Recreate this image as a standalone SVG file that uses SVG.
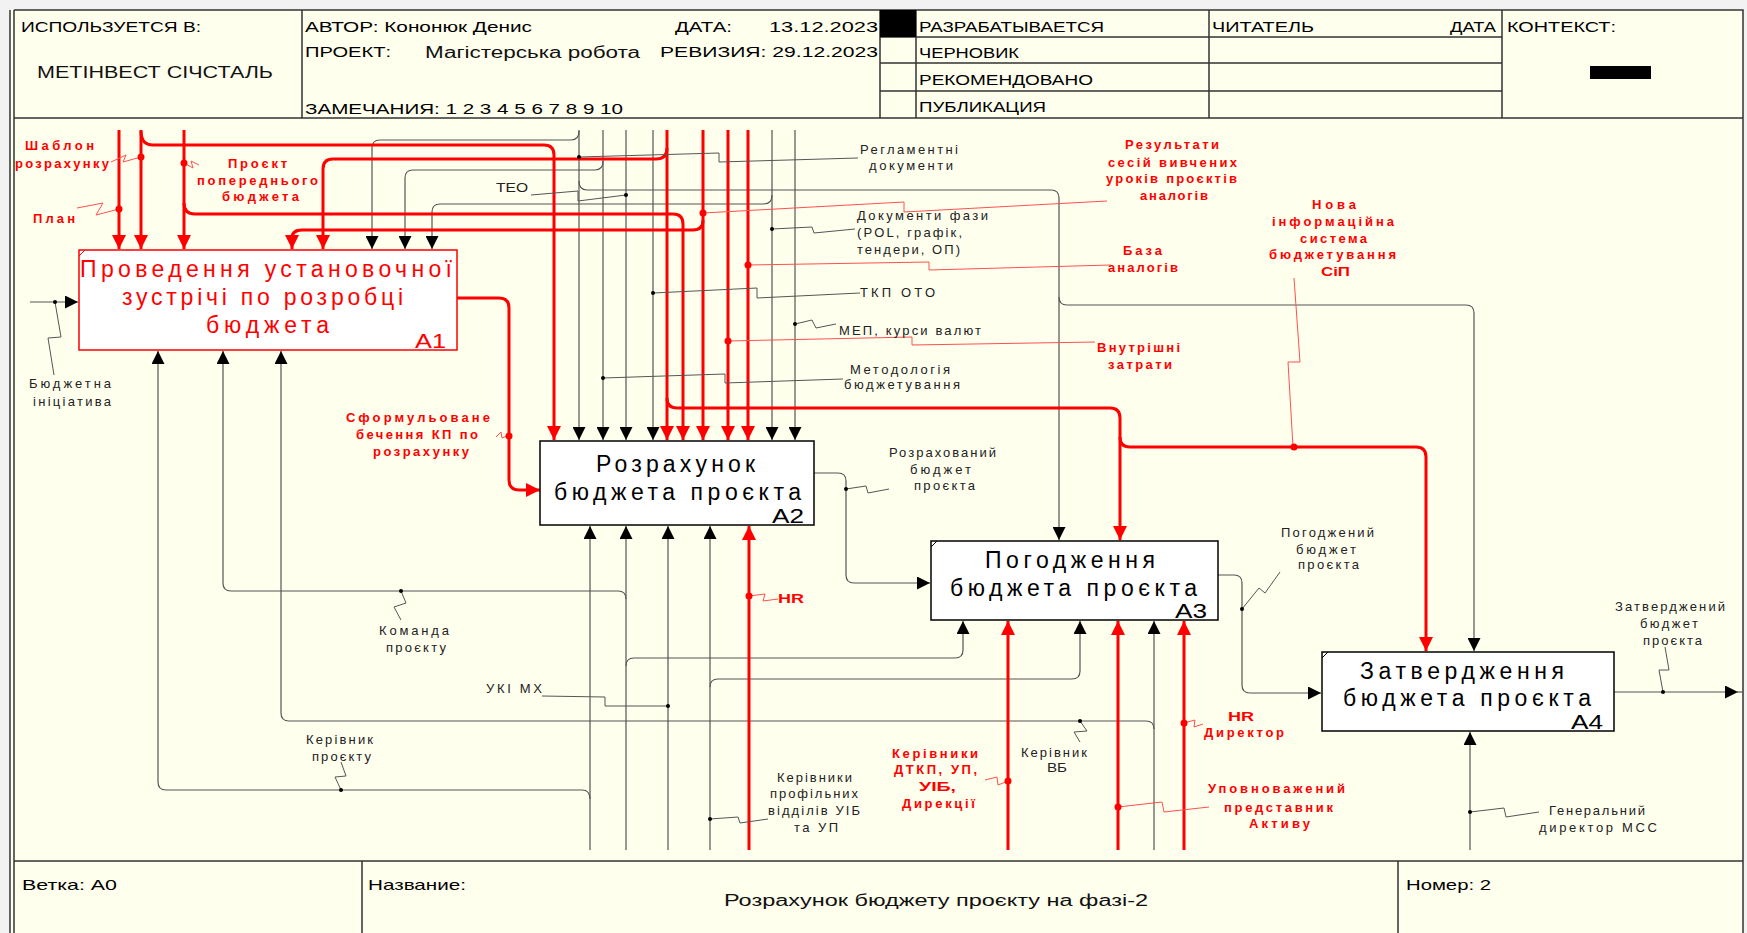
<svg xmlns="http://www.w3.org/2000/svg" width="1747" height="933" viewBox="0 0 1747 933">
<defs>
<style>
.hd{font-family:"Liberation Sans",Arial,sans-serif;font-size:15px;fill:#000}
.th{font-family:"Liberation Sans",Arial,sans-serif;font-size:16px;fill:#111}
.bx{font-family:"Liberation Sans",Arial,sans-serif;font-size:23px;fill:#000}
.bxr{font-family:"Liberation Sans",Arial,sans-serif;font-size:23px;fill:#ff0000}
.num{font-family:"Liberation Sans",Arial,sans-serif;font-size:20px}
.lb{font-family:"Liberation Sans",Arial,sans-serif;font-size:13px;fill:#222}
.rl{font-family:"Liberation Sans",Arial,sans-serif;font-size:13px;font-weight:bold;fill:#ff0000}
.fr{stroke:#333;stroke-width:1.5;fill:none}
.k{stroke:#555;stroke-width:1.2;fill:none}
.r{stroke:#ff0000;stroke-width:3;fill:none}
.ks{stroke:#555;stroke-width:1;fill:none}
.rs{stroke:#ff5050;stroke-width:1;fill:none}
.box{fill:#fff;stroke:#000;stroke-width:1.5}
.boxr{fill:#fff;stroke:#ff0000;stroke-width:1.5}
</style>
<marker id="ak" markerUnits="userSpaceOnUse" markerWidth="13" markerHeight="13" viewBox="0 0 12 12" refX="12" refY="6" orient="auto"><path d="M0,0 L12,6 L0,12 z" fill="#000"/></marker>
<marker id="ar" markerUnits="userSpaceOnUse" markerWidth="14" markerHeight="14" viewBox="0 0 12 12" refX="12" refY="6" orient="auto"><path d="M0,0 L12,6 L0,12 z" fill="#ff0000"/></marker>
</defs>
<rect x="0" y="0" width="1747" height="933" fill="#f2f2f2"/>
<rect x="10" y="10" width="1733" height="923" fill="#FFFFEE"/>
<g id="frame">
<path class="fr" d="M10,10 V933 M14,10 V933 M14,10 H1743 V933 M14,118 H1743 M14,861 H1743"/>
<path class="fr" d="M302,10 V118 M880,10 V118 M916,10 V118 M1209,10 V118 M1502,10 V118 M880,37 H1502 M880,63 H1502 M880,91 H1502"/>
<path class="fr" d="M362,861 V933 M1398,861 V933"/>
<rect x="880" y="10" width="36" height="27" fill="#000"/>
<rect x="1590" y="66" width="61" height="13" fill="#000"/>
<text class="hd" x="21" y="32" textLength="180" lengthAdjust="spacingAndGlyphs">ИСПОЛЬЗУЕТСЯ В:</text>
<text class="th" x="37" y="78" textLength="236" lengthAdjust="spacingAndGlyphs">МЕТІНВЕСТ СІЧСТАЛЬ</text>
<text class="hd" x="305" y="32" textLength="227" lengthAdjust="spacingAndGlyphs">АВТОР: Кононюк Денис</text>
<text class="hd" x="675" y="32" textLength="57" lengthAdjust="spacingAndGlyphs">ДАТА:</text>
<text class="hd" x="769" y="32" textLength="109" lengthAdjust="spacingAndGlyphs">13.12.2023</text>
<text class="hd" x="305" y="57" textLength="86" lengthAdjust="spacingAndGlyphs">ПРОЕКТ:</text>
<text class="th" x="425" y="58" textLength="215" lengthAdjust="spacingAndGlyphs">Магістерська робота</text>
<text class="hd" x="660" y="57" textLength="218" lengthAdjust="spacingAndGlyphs">РЕВИЗИЯ: 29.12.2023</text>
<text class="hd" x="305" y="114" textLength="318" lengthAdjust="spacingAndGlyphs">ЗАМЕЧАНИЯ: 1 2 3 4 5 6 7 8 9 10</text>
<text class="hd" x="919" y="32" textLength="185" lengthAdjust="spacingAndGlyphs">РАЗРАБАТЫВАЕТСЯ</text>
<text class="hd" x="919" y="58" textLength="100" lengthAdjust="spacingAndGlyphs">ЧЕРНОВИК</text>
<text class="hd" x="919" y="85" textLength="174" lengthAdjust="spacingAndGlyphs">РЕКОМЕНДОВАНО</text>
<text class="hd" x="919" y="112" textLength="127" lengthAdjust="spacingAndGlyphs">ПУБЛИКАЦИЯ</text>
<text class="hd" x="1212" y="32" textLength="102" lengthAdjust="spacingAndGlyphs">ЧИТАТЕЛЬ</text>
<text class="hd" x="1450" y="32" textLength="46" lengthAdjust="spacingAndGlyphs">ДАТА</text>
<text class="hd" x="1507" y="32" textLength="109" lengthAdjust="spacingAndGlyphs">КОНТЕКСТ:</text>
<text class="hd" x="22" y="890" textLength="95" lengthAdjust="spacingAndGlyphs">Ветка: А0</text>
<text class="hd" x="368" y="890" textLength="98" lengthAdjust="spacingAndGlyphs">Название:</text>
<text class="th" x="724" y="906" textLength="424" lengthAdjust="spacingAndGlyphs">Розрахунок бюджету проєкту на фазі-2</text>
<text class="hd" x="1406" y="890" textLength="85" lengthAdjust="spacingAndGlyphs">Номер: 2</text>
</g>
<g id="connectors">
<g marker-end="url(#ak)">
<path class="k" d="M579,130 V440"/>
<path class="k" d="M579,131 Q579,140 571,140 H380 Q372,140 372,148 V249"/>
<path class="k" d="M579,181 Q579,190 587,190 H1051 Q1059,190 1059,198 V540"/>
<path class="k" d="M1059,297 Q1059,305 1067,305 H1466 Q1474,305 1474,313 V651"/>
<path class="k" d="M603,130 V440"/>
<path class="k" d="M603,161 Q603,170 595,170 H413 Q405,170 405,178 V249"/>
<path class="k" d="M626,130 V440"/>
<path class="k" d="M653,130 V440"/>
<path class="k" d="M772,130 V440"/>
<path class="k" d="M772,195 Q772,204 764,204 H440 Q432,204 432,212 V249"/>
<path class="k" d="M795,130 V440"/>
<path class="k" d="M590,850 V526"/>
<path class="k" d="M590,799 Q590,790 582,790 H166 Q158,790 158,782 V351"/>
<path class="k" d="M626,850 V526"/>
<path class="k" d="M626,599 Q626,591 618,591 H231 Q223,591 223,583 V351"/>
<path class="k" d="M626,666 Q626,658 634,658 H955 Q963,658 963,650 V621"/>
<path class="k" d="M668,850 V526"/>
<path class="k" d="M710,850 V526"/>
<path class="k" d="M710,687 Q710,679 718,679 H1072 Q1080,679 1080,671 V621"/>
<path class="k" d="M1154,850 V621"/>
<path class="k" d="M1154,729 Q1154,721 1146,721 H289 Q281,721 281,713 V351"/>
<path class="k" d="M1470,850 V732"/>
<path class="k" d="M814,473 H838 Q846,473 846,481 V575 Q846,583 854,583 H930"/>
<path class="k" d="M1218,575 H1234 Q1242,575 1242,583 V685 Q1242,693 1250,693 H1321"/>
<path class="k" d="M1614,692 H1738"/>
<path class="k" d="M30,302 H78"/>
</g>
<path class="k" d="M1736,692 H1743"/>
<g marker-end="url(#ar)">
<path class="r" d="M119,130 V249"/>
<path class="r" d="M141,130 V249"/>
<path class="r" d="M141,131 Q141,145 153,145 H544 Q554,145 554,155 V440"/>
<path class="r" d="M184,130 V249"/>
<path class="r" d="M184,203 Q184,214 195,214 H673 Q683,214 683,224 V440"/>
<path class="r" d="M667,130 V440"/>
<path class="r" d="M667,148 Q667,159 656,159 H333 Q323,159 323,169 V249"/>
<path class="r" d="M667,398 Q667,408 677,408 H1110 Q1120,408 1120,418 V540"/>
<path class="r" d="M1120,437 Q1120,447 1130,447 H1416 Q1426,447 1426,457 V651"/>
<path class="r" d="M703,130 V440"/>
<path class="r" d="M703,220 Q703,230 693,230 H302 Q292,230 292,238 V249"/>
<path class="r" d="M728,130 V440"/>
<path class="r" d="M748,130 V440"/>
<path class="r" d="M457,298 H499 Q509,298 509,308 V480 Q509,490 519,490 H540"/>
<path class="r" d="M749,850 V526"/>
<path class="r" d="M1008,850 V621"/>
<path class="r" d="M1118,850 V621"/>
<path class="r" d="M1184,850 V621"/>
</g>
<g class="ks">
<polyline points="579,157 719,153 719,162 858,158"/>
<polyline points="531,195 578,191 578,201 626,195"/>
<polyline points="772,229 812,227 814,233 855,229"/>
<polyline points="653,293 757,288 757,298 860,293"/>
<polyline points="795,324 812,320 816,328 836,324"/>
<polyline points="603,378 725,374 725,383 843,379"/>
<polyline points="55,302 61,337 48,338 54,375"/>
<polyline points="846,489 866,486 868,493 889,489"/>
<polyline points="1242,609 1259,588 1265,593 1280,572"/>
<polyline points="1663,692 1659,670 1669,670 1665,647"/>
<polyline points="1470,812 1504,808 1506,817 1539,812"/>
<polyline points="401,591 406,603 394,607 401,620"/>
<polyline points="542,696 605,697 605,706 668,706"/>
<polyline points="341,790 335,777 346,776 341,762"/>
<polyline points="710,819 738,817 740,823 768,819"/>
<polyline points="1080,721 1087,731 1074,732 1080,742"/>
</g>
<g class="rs">
<polyline points="111,162 126,155 123,162 141,157"/>
<polyline points="77,208 103,203 96,215 119,209"/>
<polyline points="184,163 193,168 191,161 199,165"/>
<polyline points="703,213 904,202 904,212 1107,201"/>
<polyline points="748,265 929,262 929,270 1111,265"/>
<polyline points="728,341 912,337 912,345 1095,342"/>
<polyline points="1294,278 1300,362 1288,362 1293,447"/>
<polyline points="496,437 501,432 502,438 509,435"/>
<polyline points="749,596 765,594 763,601 778,599"/>
<polyline points="985,780 997,777 998,785 1008,781"/>
<polyline points="1184,723 1195,720 1194,727 1203,724"/>
<polyline points="1118,807 1162,802 1164,812 1209,807"/>
</g>
<g fill="#000">
<circle cx="579" cy="157" r="2"/><circle cx="626" cy="195" r="2"/><circle cx="653" cy="293" r="2"/>
<circle cx="772" cy="229" r="2"/><circle cx="795" cy="324" r="2"/><circle cx="603" cy="378" r="2"/>
<circle cx="55" cy="302" r="2"/><circle cx="846" cy="489" r="2"/><circle cx="1242" cy="609" r="2"/>
<circle cx="1663" cy="692" r="2"/><circle cx="1470" cy="812" r="2"/><circle cx="401" cy="591" r="2"/>
<circle cx="668" cy="706" r="2"/><circle cx="341" cy="790" r="2"/><circle cx="710" cy="819" r="2"/>
<circle cx="1080" cy="721" r="2"/>
</g>
<g fill="#ff0000">
<circle cx="119" cy="209" r="3.5"/><circle cx="141" cy="157" r="3.5"/><circle cx="184" cy="163" r="3.5"/>
<circle cx="703" cy="213" r="3.5"/><circle cx="748" cy="265" r="3.5"/><circle cx="728" cy="341" r="3.5"/>
<circle cx="509" cy="436" r="3.5"/><circle cx="1294" cy="447" r="3.5"/><circle cx="749" cy="596" r="3.5"/>
<circle cx="1008" cy="781" r="3.5"/><circle cx="1118" cy="807" r="3.5"/><circle cx="1184" cy="723" r="3.5"/>
</g>
</g>
<g id="A1">
<rect class="boxr" x="79" y="250" width="378" height="100"/>
<path d="M79,256 L85,250" stroke="#ff0000" stroke-width="1"/>
<text class="bxr" x="80" y="277" textLength="372">Проведення установочної</text>
<text class="bxr" x="122" y="305" textLength="281">зустрічі по розробці</text>
<text class="bxr" x="206" y="333" textLength="123">бюджета</text>
<text class="num" fill="#ff0000" x="415" y="348" textLength="31" lengthAdjust="spacingAndGlyphs">A1</text>
</g>
<g id="A2">
<rect class="box" x="540" y="441" width="274" height="84"/>
<text class="bx" x="596" y="472" textLength="159">Розрахунок</text>
<text class="bx" x="554" y="500" textLength="247">бюджета проєкта</text>
<text class="num" fill="#000" x="772" y="523" textLength="32" lengthAdjust="spacingAndGlyphs">A2</text>
</g>
<g id="A3">
<rect class="box" x="931" y="541" width="287" height="79"/>
<path d="M931,547 L937,541" stroke="#000" stroke-width="1"/>
<text class="bx" x="985" y="568" textLength="170">Погодження</text>
<text class="bx" x="950" y="596" textLength="247">бюджета проєкта</text>
<text class="num" fill="#000" x="1175" y="618" textLength="32" lengthAdjust="spacingAndGlyphs">A3</text>
</g>
<g id="A4">
<rect class="box" x="1322" y="652" width="292" height="79"/>
<path d="M1322,658 L1328,652" stroke="#000" stroke-width="1"/>
<text class="bx" x="1360" y="679" textLength="204">Затвердження</text>
<text class="bx" x="1343" y="706" textLength="248">бюджета проєкта</text>
<text class="num" fill="#000" x="1571" y="729" textLength="32" lengthAdjust="spacingAndGlyphs">A4</text>
</g>
<g id="labels">
<text class="lb" x="860" y="154" textLength="98">Регламентні</text>
<text class="lb" x="869" y="170" textLength="84">документи</text>
<text class="lb" x="496" y="192" textLength="32" lengthAdjust="spacingAndGlyphs">ТЕО</text>
<text class="lb" x="857" y="220" textLength="131">Документи фази</text>
<text class="lb" x="857" y="237" textLength="105">(POL, графік,</text>
<text class="lb" x="857" y="254" textLength="103">тендери, ОП)</text>
<text class="lb" x="860" y="297" textLength="75">ТКП ОТО</text>
<text class="lb" x="839" y="335" textLength="142">МЕП, курси валют</text>
<text class="lb" x="850" y="374" textLength="100">Методологія</text>
<text class="lb" x="844" y="389" textLength="116">бюджетування</text>
<text class="lb" x="29" y="388" textLength="82">Бюджетна</text>
<text class="lb" x="33" y="406" textLength="78">ініціатива</text>
<text class="lb" x="889" y="457" textLength="107">Розрахований</text>
<text class="lb" x="910" y="474" textLength="61">бюджет</text>
<text class="lb" x="914" y="490" textLength="61">проєкта</text>
<text class="lb" x="1281" y="537" textLength="93">Погоджений</text>
<text class="lb" x="1296" y="554" textLength="60">бюджет</text>
<text class="lb" x="1298" y="569" textLength="61">проєкта</text>
<text class="lb" x="1615" y="611" textLength="110">Затверджений</text>
<text class="lb" x="1640" y="628" textLength="58">бюджет</text>
<text class="lb" x="1643" y="645" textLength="59">проєкта</text>
<text class="lb" x="1549" y="815" textLength="96">Генеральний</text>
<text class="lb" x="1539" y="832" textLength="118">директор МСС</text>
<text class="lb" x="379" y="635" textLength="70">Команда</text>
<text class="lb" x="386" y="652" textLength="60">проєкту</text>
<text class="lb" x="486" y="693" textLength="56">УКІ МХ</text>
<text class="lb" x="306" y="744" textLength="67">Керівник</text>
<text class="lb" x="312" y="761" textLength="59">проєкту</text>
<text class="lb" x="777" y="782" textLength="75">Керівники</text>
<text class="lb" x="770" y="798" textLength="88">профільних</text>
<text class="lb" x="768" y="815" textLength="92">відділів УІБ</text>
<text class="lb" x="794" y="832" textLength="44">та УП</text>
<text class="lb" x="1021" y="757" textLength="66">Керівник</text>
<text class="lb" x="1047" y="772" textLength="20" lengthAdjust="spacingAndGlyphs">ВБ</text>
<text class="rl" x="25" y="150" textLength="69">Шаблон</text>
<text class="rl" x="15" y="168" textLength="94">розрахунку</text>
<text class="rl" x="33" y="223" textLength="42">План</text>
<text class="rl" x="228" y="168" textLength="59">Проєкт</text>
<text class="rl" x="197" y="185" textLength="121">попереднього</text>
<text class="rl" x="222" y="201" textLength="77">бюджета</text>
<text class="rl" x="1125" y="149" textLength="94">Результати</text>
<text class="rl" x="1108" y="167" textLength="129">сесій вивчених</text>
<text class="rl" x="1106" y="183" textLength="131">уроків проєктів</text>
<text class="rl" x="1140" y="200" textLength="68">аналогів</text>
<text class="rl" x="1123" y="255" textLength="39">База</text>
<text class="rl" x="1108" y="272" textLength="70">аналогів</text>
<text class="rl" x="1097" y="352" textLength="83">Внутрішні</text>
<text class="rl" x="1108" y="369" textLength="64">затрати</text>
<text class="rl" x="1312" y="209" textLength="44">Нова</text>
<text class="rl" x="1272" y="226" textLength="122">інформаційна</text>
<text class="rl" x="1300" y="243" textLength="67">система</text>
<text class="rl" x="1269" y="259" textLength="127">бюджетування</text>
<text class="rl" x="1321" y="276" textLength="29" lengthAdjust="spacingAndGlyphs">СіП</text>
<text class="rl" x="346" y="422" textLength="144">Сформульоване</text>
<text class="rl" x="356" y="439" textLength="122">бечення КП по</text>
<text class="rl" x="373" y="456" textLength="96">розрахунку</text>
<text class="rl" x="778" y="603" textLength="26" lengthAdjust="spacingAndGlyphs">HR</text>
<text class="rl" x="892" y="758" textLength="86">Керівники</text>
<text class="rl" x="894" y="774" textLength="83">ДТКП, УП,</text>
<text class="rl" x="919" y="791" textLength="37" lengthAdjust="spacingAndGlyphs">УІБ,</text>
<text class="rl" x="902" y="808" textLength="73">Дирекції</text>
<text class="rl" x="1228" y="721" textLength="26" lengthAdjust="spacingAndGlyphs">HR</text>
<text class="rl" x="1204" y="737" textLength="80">Директор</text>
<text class="rl" x="1208" y="793" textLength="137">Уповноважений</text>
<text class="rl" x="1224" y="812" textLength="109">представник</text>
<text class="rl" x="1249" y="828" textLength="61">Активу</text>
</g>
</svg>
